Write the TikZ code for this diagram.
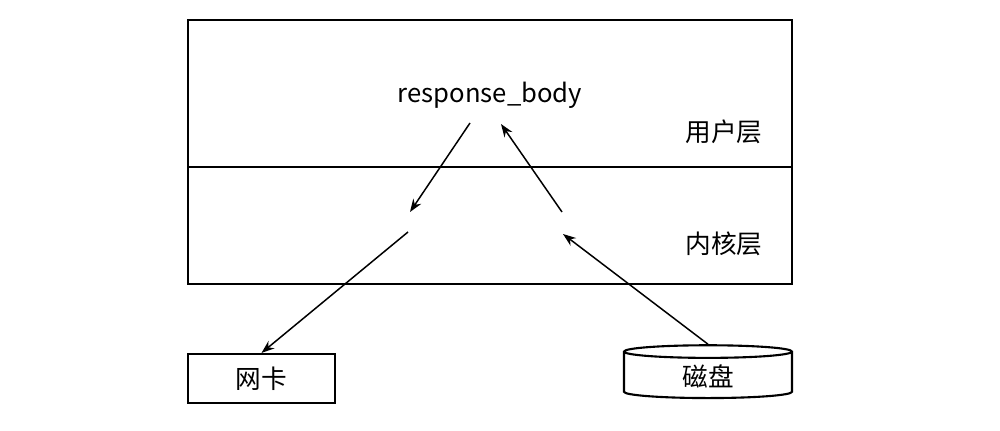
\documentclass[tikz,border=0pt]{standalone}
\usepackage{fontspec}
\setmainfont{Noto Sans CJK SC}
\usetikzlibrary{arrows.meta,positioning,shapes.geometric}

\begin{document}
\begin{tikzpicture}[
  font=\fontsize{14.6}{16}\selectfont,
  layer/.style={draw=black, line width=1.2pt},
  device/.style={draw=black, line width=1.2pt, fill=white,
    minimum width=2.94cm, minimum height=0.98cm, align=center},
  flow/.style={-{Stealth[length=2.6mm,width=1.9mm]}, line width=0.85pt, draw=black}
]
  \useasboundingbox (0,0) rectangle (20,8.6);

  % user / kernel layers
  \node[layer, minimum width=12.08cm, minimum height=2.94cm, inner sep=0pt]
    (userLayer) at (9.8,6.73) {};
  \node[layer, minimum width=12.08cm, minimum height=2.34cm, inner sep=0pt]
    (kernelLayer) at (9.8,4.09) {};
  \node (userLabel) at (14.48,5.96) {用户层};
  \node (kernelLabel) at (14.48,3.72) {内核层};

  \node (respBody) at (9.8,6.7) {response\_body};

  % devices
  \node[device] (nic) at (5.23,1.03) {网卡};
  \node[device, cylinder, shape border rotate=90, aspect=0.2,
    minimum width=3.36cm, minimum height=0.94cm] (disk) at (14.16,1.07) {磁盘};

  \coordinate (sendTop) at (9.4,6.14);
  \coordinate (sendMid) at (8.2,4.36);
  \coordinate (sendLow) at (8.16,3.96);
  \coordinate (readTop) at (10.02,6.12);
  \coordinate (readMid) at (11.24,4.36);
  \coordinate (readLow) at (11.26,3.92);

  \draw[flow] (sendTop) -- (sendMid);
  \draw[flow] (sendLow) -- (nic.north);
  \draw[flow] (disk.north) -- (readLow);
  \draw[flow] (readMid) -- (readTop);
\end{tikzpicture}
\end{document}
